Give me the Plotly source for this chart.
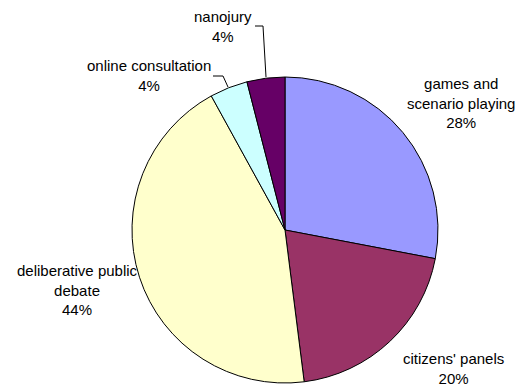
import plotly.graph_objects as go

labels = ["games and<br>scenario playing", "citizens' panels", "deliberative public<br>debate", "online consultation", "nanojury"]
values = [28, 20, 44, 4, 4]
colors = ["#9999FF", "#993366", "#FFFFCC", "#CCFFFF", "#660066"]
pct_text = ["28%", "20%", "44%", "4%", "4%"]

W, H = 524, 387
def px(x): return x / W
def py(y): return 1 - y / H

fig = go.Figure(go.Pie(
    labels=labels, values=values, sort=False, direction="clockwise", rotation=0,
    marker=dict(colors=colors, line=dict(color="black", width=1)),
    textinfo="none", hoverinfo="label+percent", showlegend=False,
    domain=dict(x=[px(132), px(438)], y=[py(383), py(77)]),
))

label_pos = [(461, 103), (453, 368), (77, 290), (149, 76), (223, 26)]
for lab, pct, (x, y) in zip(labels, pct_text, label_pos):
    fig.add_annotation(x=px(x), y=py(y), xref="paper", yref="paper",
                       text=lab + "<br>" + pct, showarrow=False,
                       font=dict(family="Liberation Sans, Arial", size=15, color="black"),
                       align="center", xanchor="center", yanchor="middle")

leaders = [
    [(255, 26), (263, 26), (266, 77)],
    [(213, 76), (223, 76), (228, 87)],
]
for pts in leaders:
    path = "M " + " L ".join(f"{px(a)},{py(b)}" for a, b in pts)
    fig.add_shape(type="path", path=path, xref="paper", yref="paper",
                  line=dict(color="black", width=1))

fig.update_layout(width=W, height=H, margin=dict(l=0, r=0, t=0, b=0),
                  paper_bgcolor="white", plot_bgcolor="white")
fig.write_html("out.html")
